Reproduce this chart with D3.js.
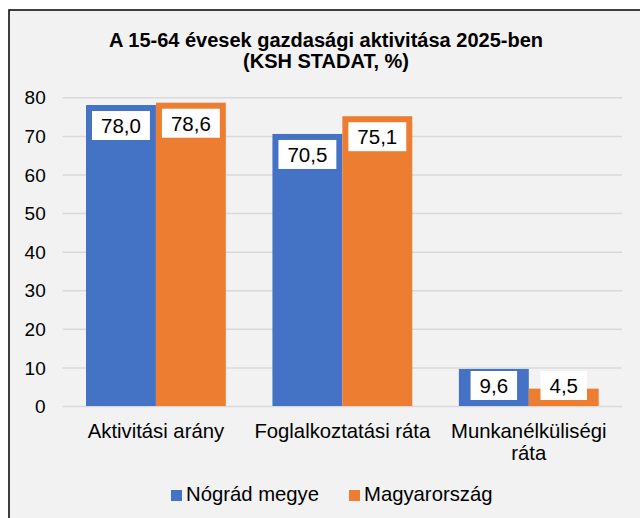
<!DOCTYPE html>
<html><head><meta charset="utf-8">
<script src="https://cdn.jsdelivr.net/npm/d3@7"></script>
<style>html,body{margin:0;padding:0;background:#fff;}svg{display:block;}</style>
</head><body>
<script>
const titleLines = ["A 15-64 évesek gazdasági aktivitása 2025-ben", "(KSH STADAT, %)"];
const categories = [["Aktivitási arány"], ["Foglalkoztatási ráta"], ["Munkanélküliségi", "ráta"]];
const seriesNames = ["Nógrád megye", "Magyarország"];
const nogradValues = [78.0, 70.5, 9.6];
const hungaryValues = [78.6, 75.1, 4.5];
const yTicks = [0, 10, 20, 30, 40, 50, 60, 70, 80];
const colors = ["#4472c4", "#ed7d31"];
const fmt = v => v.toFixed(1).replace(".", ",");

const W = 640, H = 518;
const svg = d3.select("body").append("svg").attr("width", W).attr("height", H);
const font = "'Liberation Sans', Arial, sans-serif";

svg.append("rect").attr("x", 9).attr("y", 10).attr("width", W + 10).attr("height", H + 10)
  .attr("fill", "#f2f2f2").attr("stroke", "#000").attr("stroke-width", 1.5);

const t = svg.append("text").attr("font-family", font).attr("font-weight", "bold")
  .attr("font-size", 20).attr("text-anchor", "middle").attr("fill", "#000");
titleLines.forEach((l, i) => t.append("tspan").attr("x", 326).attr("y", 46.5 + i * 21).text(l));

const plot = {left: 62.7, right: 622, top: 97.3, bottom: 406};
const y = d3.scaleLinear().domain([0, 80]).range([plot.bottom, plot.top]);
const x0 = d3.scaleBand().domain(d3.range(categories.length)).range([plot.left, plot.right])
  .paddingInner(0.25).paddingOuter(0.125);
const x1 = d3.scaleBand().domain([0, 1]).range([0, x0.bandwidth()]);

const yAxis = svg.append("g").attr("transform", `translate(${plot.left},0)`)
  .call(d3.axisLeft(y).tickValues(yTicks).tickSize(-(plot.right - plot.left)).tickPadding(17));
yAxis.select(".domain").remove();
yAxis.selectAll(".tick line").attr("stroke", "#d9d9d9").attr("stroke-width", 1.5);
yAxis.selectAll(".tick text").attr("font-family", font).attr("font-size", 19).attr("fill", "#000")
  .attr("dy", "0.35em");

const data = categories.map((c, i) => ({i, vals: [nogradValues[i], hungaryValues[i]]}));
const groups = svg.selectAll("g.grp").data(data).enter().append("g")
  .attr("transform", d => `translate(${x0(d.i)},0)`);
groups.selectAll("rect.bar").data(d => d.vals.map((v, s) => ({v, s}))).enter().append("rect")
  .attr("x", d => x1(d.s)).attr("width", x1.bandwidth())
  .attr("y", d => y(d.v)).attr("height", d => y(0) - y(d.v)).attr("fill", d => colors[d.s]);

groups.each(function(d) {
  const g = d3.select(this);
  d.vals.forEach((v, s) => {
    const cx = x1(s) + x1.bandwidth() / 2;
    const top = Math.min(y(v) + 6, y(0) - 35);
    const txt = g.append("text").attr("font-family", font).attr("font-size", 20.5)
      .attr("text-anchor", "middle").attr("x", cx).attr("y", top + 22).text(fmt(v));
    const w = txt.node().getComputedTextLength() + 18;
    g.insert("rect", "text").attr("x", cx - w / 2).attr("y", top).attr("width", w).attr("height", 29)
      .attr("fill", "#fff");
  });
});

const cat = svg.append("g");
categories.forEach((lines, i) => {
  const tx = cat.append("text").attr("font-family", font).attr("font-size", 20.3)
    .attr("text-anchor", "middle").attr("fill", "#000");
  lines.forEach((l, j) => tx.append("tspan").attr("x", x0(i) + x0.bandwidth() / 2)
    .attr("y", 438 + j * 22).text(l));
});

const legendX = [171, 349];
seriesNames.forEach((n, s) => {
  svg.append("rect").attr("x", legendX[s]).attr("y", 490).attr("width", 11).attr("height", 11)
    .attr("fill", colors[s]);
  svg.append("text").attr("font-family", font).attr("font-size", 20.3).attr("x", legendX[s] + 15)
    .attr("y", 501).text(n);
});
</script>
</body></html>
